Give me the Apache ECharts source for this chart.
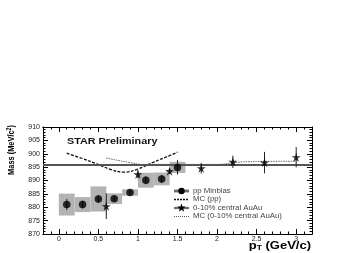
<!DOCTYPE html>
<html><head><meta charset="utf-8">
<script src="https://cdn.jsdelivr.net/npm/echarts@6/dist/echarts.min.js"></script>
<style>html,body{margin:0;padding:0;background:#fff}#c{width:345px;height:253px}</style>
</head><body><div id="c"></div>
<script>
// ---- data ----
var ppPt = [0.1, 0.3, 0.5, 0.7, 0.9, 1.1, 1.3, 1.5];
var ppMass = [881.0, 881.0, 883.1, 883.2, 885.5, 890.1, 890.6, 894.9];
var ppStat = [2.1, 1.5, 1.5, 1.0, 1.0, 1.5, 1.5, 2.7];
var ppSys = [4.1, 2.8, 4.7, 2.0, 1.2, 2.8, 2.4, 2.1];
var ppBinHalf = [0.1, 0.1, 0.1, 0.1, 0.1, 0.1, 0.1, 0.1];

var auPt = [0.6, 1.0, 1.4, 1.8, 2.2, 2.6, 3.0];
var auMass = [880.4, 892.3, 893.5, 894.6, 897.0, 896.7, 898.7];
var auStat = [4.8, 1.5, 1.0, 2.0, 2.3, 4.0, 3.8];

var mcPpPt = [0.1, 0.3, 0.48, 0.65, 0.82, 1.0, 1.2, 1.4, 1.5];
var mcPpMass = [900.2, 898.2, 896.2, 894.2, 893.1, 894.3, 896.9, 899.3, 900.6];

var mcAuPt = [0.6, 0.75, 0.9, 1.05, 1.5, 2.0, 2.25, 2.5, 3.0];
var mcAuMass = [898.4, 897.5, 896.7, 896.0, 896.0, 896.0, 896.8, 897.1, 897.2];

var pdgMass = 896.0;

var xMajorTicks = [0, 0.5, 1, 1.5, 2, 2.5, 3];
var xTickLabels = ['0', '0.5', '1', '1.5', '2', '2.5', '3'];
var legendLabels = ['pp Minbias', 'MC (pp)', '0-10% central AuAu', 'MC (0-10% central AuAu)'];

// ---- build ----
var xMinor = [];
for (var i = -2; i <= 32; i++) xMinor.push(i / 10);

var STAR = 'path://M50,0 L61,35 L98,35 L68,57 L79,91 L50,70 L21,91 L32,57 L2,35 L39,35 Z';
var FONT = 'Liberation Sans, Arial, Helvetica, sans-serif';

function zip() {
  var arrs = arguments, out = [];
  for (var i = 0; i < arrs[0].length; i++) {
    var row = [];
    for (var j = 0; j < arrs.length; j++) row.push(arrs[j][i]);
    out.push(row);
  }
  return out;
}
function starPoints(cx, cy, r) {
  var pts = [];
  for (var i = 0; i < 10; i++) {
    var a = -Math.PI / 2 + i * Math.PI / 5, rr = (i % 2 === 0) ? r : r * 0.4;
    pts.push([cx + rr * Math.cos(a), cy + rr * Math.sin(a)]);
  }
  return pts;
}

function boxRender(params, api) {
  var x = api.value(0), y = api.value(1), hw = api.value(2), s = api.value(3);
  var p1 = api.coord([x - hw, y + s]), p2 = api.coord([x + hw, y - s]);
  return {type: 'rect', shape: {x: p1[0], y: p1[1], width: p2[0] - p1[0], height: p2[1] - p1[1]},
    style: {fill: '#b3b3b3'}};
}
function errRender(params, api) {
  var x = api.value(0), y = api.value(1), e = api.value(2);
  var p1 = api.coord([x, y - e]), p2 = api.coord([x, y + e]);
  return {type: 'line', shape: {x1: p1[0], y1: p1[1], x2: p2[0], y2: p2[1]},
    style: {stroke: '#222', lineWidth: 1}};
}

function xAx(pos, major, labels) {
  return {
    type: 'value', position: pos, min: -0.2, max: 3.2, gridIndex: 0,
    axisLine: {show: true, onZero: false, lineStyle: {color: '#000', width: 1}},
    splitLine: {show: false},
    axisTick: {show: true, inside: true, length: major ? 5 : 2.5, customValues: major ? xMajorTicks : xMinor,
      lineStyle: {color: '#000', width: 1}},
    axisLabel: labels ? {show: true, customValues: xMajorTicks, margin: 2, fontSize: 7, color: '#222', fontFamily: FONT,
      formatter: function (v) { var k = xMajorTicks.indexOf(v); return k >= 0 ? xTickLabels[k] : ''; }} : {show: false}
  };
}
function yAx(pos, labels) {
  return {
    type: 'value', position: pos, min: 870, max: 910, interval: 5,
    axisLine: {show: true, onZero: false, lineStyle: {color: '#000', width: 1}},
    splitLine: {show: false},
    axisTick: {show: true, inside: true, length: 5, lineStyle: {color: '#000', width: 1}},
    minorTick: {show: true, splitNumber: 5, length: 2.5, lineStyle: {color: '#000', width: 1}},
    axisLabel: labels ? {show: true, margin: 3, fontSize: 7, color: '#222', fontFamily: FONT} : {show: false}
  };
}

var g = [];
var lx = 174, lw = 15, ty = [191, 199.5, 208, 216.5];
g.push({type: 'rect', shape: {x: lx, y: ty[0] - 1.8, width: lw, height: 3.6}, style: {fill: '#b3b3b3'}});
g.push({type: 'line', shape: {x1: lx, y1: ty[0], x2: lx + lw, y2: ty[0]}, style: {stroke: '#222', lineWidth: 1}});
g.push({type: 'circle', shape: {cx: lx + lw / 2, cy: ty[0], r: 3.2}, style: {fill: '#000'}});
g.push({type: 'line', shape: {x1: lx, y1: ty[1], x2: lx + lw, y2: ty[1]}, style: {stroke: '#111', lineWidth: 1.3, lineDash: [2, 1]}});
g.push({type: 'rect', shape: {x: lx, y: ty[2] - 1.2, width: lw, height: 2.4}, style: {fill: '#b3b3b3'}});
g.push({type: 'line', shape: {x1: lx, y1: ty[2], x2: lx + lw, y2: ty[2]}, style: {stroke: '#222', lineWidth: 1}});
g.push({type: 'polygon', shape: {points: starPoints(lx + lw / 2, ty[2], 4.5)}, style: {fill: '#000'}});
g.push({type: 'line', shape: {x1: lx, y1: ty[3], x2: lx + lw, y2: ty[3]}, style: {stroke: '#555', lineWidth: 1, lineDash: [1, 1]}});
for (var k = 0; k < legendLabels.length; k++) {
  g.push({type: 'text', x: lx + lw + 4, y: ty[k], scaleX: 1.2, style: {text: legendLabels[k], fontSize: 6.5, fontFamily: FONT,
    fill: '#444', verticalAlign: 'middle', align: 'left'}});
}
g.push({type: 'text', x: 67, y: 142, scaleX: 1.2, style: {text: 'STAR Preliminary', fontSize: 9, fontWeight: 'bold', fontFamily: FONT,
  fill: '#111', verticalAlign: 'middle', align: 'left'}});
g.push({type: 'text', x: 311, y: 246.5, scaleX: 1.3, style: {text: 'p{sub|T} (GeV/c)', fontSize: 10, fontWeight: 'bold', fontFamily: FONT,
  fill: '#000', align: 'right', verticalAlign: 'middle',
  rich: {sub: {fontSize: 6.5, fontWeight: 'bold', fontFamily: FONT, fill: '#000', verticalAlign: 'bottom'}}}});
g.push({type: 'text', x: 11, y: 150, rotation: Math.PI / 2, scaleX: 0.78, style: {text: 'Mass (MeV/c{sup|2})', fontSize: 9.5,
  fontWeight: 'bold', fontFamily: FONT, fill: '#000', align: 'center', verticalAlign: 'middle',
  rich: {sup: {fontSize: 6.5, fontWeight: 'bold', fontFamily: FONT, fill: '#000', verticalAlign: 'top'}}}});

var option = {
  animation: false,
  backgroundColor: '#fff',
  grid: {left: 43, right: 33, top: 127, bottom: 19, containLabel: false},
  xAxis: [xAx('bottom', true, true), xAx('bottom', false, false), xAx('top', true, false), xAx('top', false, false)],
  yAxis: [yAx('left', true), yAx('right', false)],
  graphic: g,
  series: [
    {type: 'custom', name: 'ppSys', renderItem: boxRender, data: zip(ppPt, ppMass, ppBinHalf, ppSys), z: 1, clip: true},
    {type: 'line', name: 'MC AuAu', data: zip(mcAuPt, mcAuMass), smooth: 0.4, symbol: 'none', z: 2,
      lineStyle: {color: '#666', width: 1, type: [1.5, 1]}},
    {type: 'line', name: 'pdg', data: [], z: 3, symbol: 'none',
      markLine: {silent: true, symbol: 'none', label: {show: false},
        lineStyle: {color: '#555', width: 2.2, type: 'solid'}, data: [{yAxis: pdgMass}]}},
    {type: 'line', name: 'MC (pp)', data: zip(mcPpPt, mcPpMass), smooth: 0.4, symbol: 'none', z: 4,
      lineStyle: {color: '#111', width: 1.3, type: [3, 1.5]}},
    {type: 'custom', name: 'ppErr', renderItem: errRender, data: zip(ppPt, ppMass, ppStat), z: 5},
    {type: 'custom', name: 'auErr', renderItem: errRender, data: zip(auPt, auMass, auStat), z: 5},
    {type: 'scatter', name: 'pp Minbias', data: zip(ppPt, ppMass), symbol: 'circle', symbolSize: 7.5, z: 6,
      itemStyle: {color: '#000'}},
    {type: 'scatter', name: 'AuAu', data: zip(auPt, auMass), symbol: STAR, symbolSize: 9, z: 6,
      itemStyle: {color: '#000'}}
  ]
};

var chart = echarts.init(document.getElementById('c'));
chart.setOption(option);
</script>
</body></html>
